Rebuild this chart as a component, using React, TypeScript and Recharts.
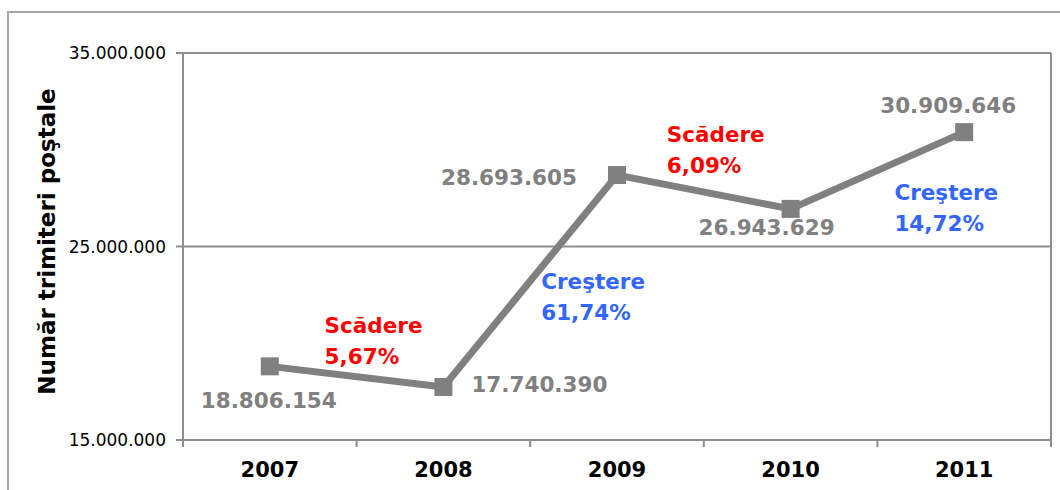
import React from 'react';
import {
  LineChart,
  Line,
  XAxis,
  YAxis,
  CartesianGrid,
  ReferenceLine,
  ReferenceDot,
  LabelList,
} from 'recharts';

const years = ['2007', '2008', '2009', '2010', '2011'];
const shipments = [18806154, 17740390, 28693605, 26943629, 30909646];
const changeWords = ['Scădere', 'Creştere', 'Scădere', 'Creştere'];
const changePercents = ['5,67%', '61,74%', '6,09%', '14,72%'];
const yTicks = [15000000, 25000000, 35000000];
const yTitle = 'Număr trimiteri poştale';

const FONT = '"DejaVu Sans", Verdana, sans-serif';
const AXIS = '#8e8e8e';
const LINE = '#808080';
const RED = '#ff0000';
const BLUE = '#3366ff';

const fmt = (n: number) => String(Math.round(n)).replace(/\B(?=(\d{3})+(?!\d))/g, '.');

const data = years.map((y, i) => ({ idx: i, year: y, value: shipments[i] }));
const segments = changeWords.map((w, i) => ({
  x: i + 0.5,
  y: (shipments[i] + shipments[i + 1]) / 2,
  word: w,
  pct: changePercents[i],
  up: shipments[i + 1] > shipments[i],
}));
const xTicks: number[] = [];
for (let i = 0; i <= years.length * 2; i++) xTicks.push(-0.5 + i * 0.5);

// label placement (pixels relative to the point)
const valueOffsets = [
  { dx: -1, dy: 34, anchor: 'middle' },
  { dx: 28, dy: -2, anchor: 'start' },
  { dx: -40, dy: 2, anchor: 'end' },
  { dx: -24, dy: 19, anchor: 'middle' },
  { dx: -16, dy: -27, anchor: 'middle' },
];
const segOffsets = [
  { dx: -32, dy: -51 },
  { dx: 11, dy: 0 },
  { dx: -37, dy: -57 },
  { dx: 17, dy: 22 },
];

const XTick = (props: any) => {
  const { x, y, payload } = props;
  const v = payload.value;
  if (Number.isInteger(v)) {
    return (
      <text
        x={x}
        y={y + 30}
        textAnchor="middle"
        fontFamily={FONT}
        fontWeight="bold"
        fontSize={21}
        fill="#000"
      >
        {years[v]}
      </text>
    );
  }
  return <line x1={x} x2={x} y1={y - 7} y2={y} stroke={AXIS} strokeWidth={2} />;
};

const SquareDot = (props: any) => {
  const { cx, cy } = props;
  return <rect x={cx - 9} y={cy - 9} width={18} height={18} fill={LINE} />;
};

const ValueLabel = (props: any) => {
  const { x, y, value, index } = props;
  const o = valueOffsets[index];
  return (
    <text
      x={x + o.dx}
      y={y + o.dy}
      textAnchor={o.anchor}
      dominantBaseline="central"
      fontFamily={FONT}
      fontWeight="bold"
      fontSize={21.5}
      fill={LINE}
    >
      {fmt(value)}
    </text>
  );
};

export default function App() {
  return (
    <div
      style={{
        position: 'absolute',
        left: 0,
        top: 0,
        width: 1060,
        height: 490,
        overflow: 'hidden',
        background: '#fff',
      }}
    >
      <div
        style={{
          position: 'absolute',
          left: 7,
          top: 11,
          width: 1200,
          height: 700,
          border: '2px solid #a6a6a6',
        }}
      />
      <div style={{ position: 'absolute', left: 0, top: 0 }}>
        <LineChart
          width={1060}
          height={490}
          data={data}
          margin={{ top: 53, right: 9, bottom: 0, left: 0 }}
        >
          <CartesianGrid vertical={false} stroke={AXIS} strokeWidth={2} />
          <XAxis
            dataKey="idx"
            type="number"
            domain={[-0.5, 4.5]}
            ticks={xTicks}
            interval={0}
            height={50}
            tickSize={7}
            tickMargin={0}
            tickLine={false}
            axisLine={{ stroke: AXIS, strokeWidth: 2 }}
            tick={<XTick />}
          />
          <YAxis
            type="number"
            domain={[15000000, 35000000]}
            ticks={yTicks}
            interval={0}
            width={183}
            tickSize={7}
            tickMargin={10}
            tickFormatter={fmt}
            axisLine={{ stroke: AXIS, strokeWidth: 2 }}
            tickLine={{ stroke: AXIS, strokeWidth: 2 }}
            tick={{ fill: '#000', fontSize: 17, fontFamily: FONT }}
            label={(p: any) => {
              const vb = p.viewBox;
              const cx = vb.x + 47;
              const cy = vb.y + vb.height / 2 - 5;
              return (
                <text
                  x={cx}
                  y={cy}
                  transform={`rotate(-90 ${cx} ${cy})`}
                  textAnchor="middle"
                  dominantBaseline="central"
                  fontFamily={FONT}
                  fontWeight="bold"
                  fontSize={23}
                  fill="#000"
                >
                  {yTitle}
                </text>
              );
            }}
          />
          <ReferenceLine x={4.5} stroke={AXIS} strokeWidth={2} />
          <Line
            type="linear"
            dataKey="value"
            stroke={LINE}
            strokeWidth={7}
            dot={<SquareDot />}
            activeDot={false}
            isAnimationActive={false}
          >
            <LabelList dataKey="value" content={<ValueLabel />} />
          </Line>
          {segments.map((s, i) => (
            <ReferenceDot
              key={i}
              x={s.x}
              y={s.y}
              r={1}
              fill="none"
              stroke="none"
              label={(p: any) => {
                const vb = p.viewBox;
                const cx = vb.x + vb.width / 2 + segOffsets[i].dx;
                const cy = vb.y + vb.height / 2 + segOffsets[i].dy;
                return (
                  <text
                    fontFamily={FONT}
                    fontWeight="bold"
                    fontSize={21.5}
                    fill={s.up ? BLUE : RED}
                    textAnchor="start"
                  >
                    <tspan x={cx} y={cy} dominantBaseline="central">
                      {s.word}
                    </tspan>
                    <tspan x={cx} y={cy + 31} dominantBaseline="central">
                      {s.pct}
                    </tspan>
                  </text>
                );
              }}
            />
          ))}
        </LineChart>
      </div>
    </div>
  );
}
